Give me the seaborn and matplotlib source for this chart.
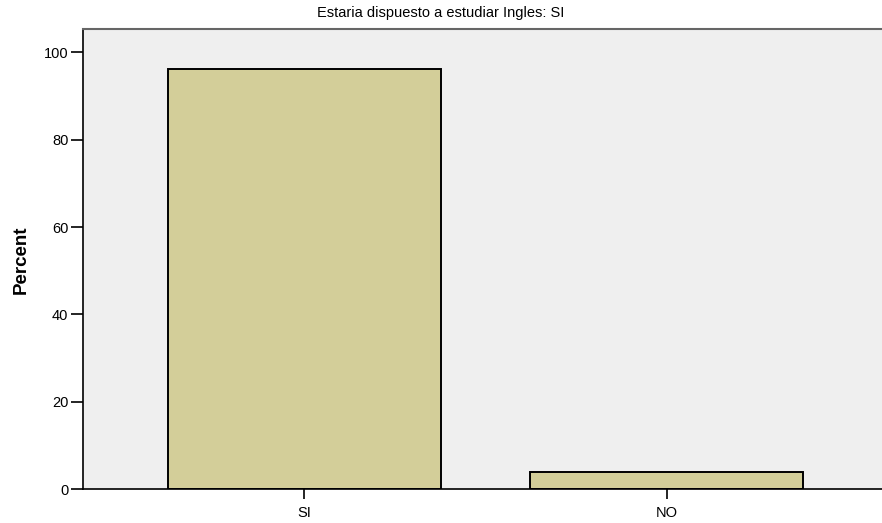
import numpy as np
import pandas as pd
import seaborn as sns
import matplotlib.pyplot as plt

# datos
categorias = ['SI', 'NO']
porcentajes = [96.1, 3.9]
yticks = [0, 20, 40, 60, 80, 100]
titulo = 'Estaria dispuesto a estudiar Ingles: SI'

sns.set_style('white')
plt.rcParams['font.family'] = ['Liberation Sans', 'DejaVu Sans']
plt.rcParams['text.color'] = 'black'
plt.rcParams['axes.labelcolor'] = 'black'
plt.rcParams['xtick.color'] = 'black'
plt.rcParams['ytick.color'] = 'black'

df = pd.DataFrame({'cat': categorias, 'pct': porcentajes})

fig = plt.figure(figsize=(8.82, 5.23), dpi=100)
ax = fig.add_axes([0.0941, 0.0644, 0.9127, 0.8792])
ax.set_facecolor('#efefef')

sns.barplot(data=df, x='cat', y='pct', color='#d3ce99', saturation=1,
            edgecolor='black', linewidth=1.4, width=0.753, ax=ax)

ax.set_xlim(-0.611, 1.611)
ax.set_ylim(0, 105.2)
ax.set_yticks(yticks)
ax.tick_params(axis='y', length=8.6, width=1.2, labelsize=10.5, pad=2, left=True)
ax.tick_params(axis='x', length=7, width=1.2, labelsize=10.5, pad=5, bottom=True)
ax.set_xlabel('')
ax.set_ylabel('Percent', fontsize=13.5, fontweight='bold', labelpad=10)

for s in ['left', 'bottom']:
    ax.spines[s].set_color('black')
    ax.spines[s].set_linewidth(1.2)
ax.spines['top'].set_color('#666666')
ax.spines['top'].set_linewidth(1.5)
ax.spines['right'].set_visible(False)

fig.text(0.5, 0.975, titulo, ha='center', va='center', fontsize=10.5)

fig.savefig('out.png', dpi=100)
